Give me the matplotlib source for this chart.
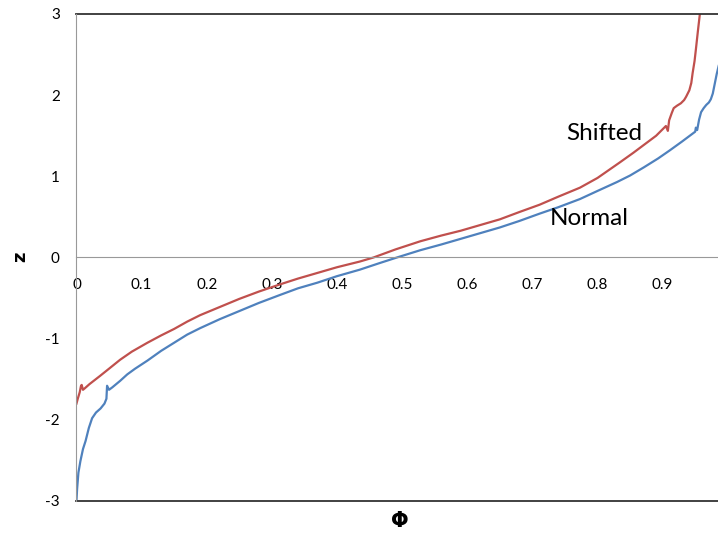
import matplotlib
matplotlib.use("Agg")
from matplotlib import pyplot as plt
import numpy as np

plt.rcParams['font.family'] = ['Lato', 'DejaVu Sans']
plt.rcParams['axes.unicode_minus'] = False

# Normal curve (blue)
normal_x = [0.0, 0.001, 0.003, 0.006, 0.010, 0.014, 0.019, 0.024, 0.030, 0.037,
            0.043, 0.046, 0.047, 0.050, 0.055, 0.067, 0.078, 0.09, 0.109, 0.13,
            0.15, 0.17, 0.19, 0.22, 0.25, 0.28, 0.313, 0.34, 0.37, 0.40,
            0.435, 0.465, 0.492, 0.528, 0.56, 0.59, 0.62, 0.65, 0.68, 0.711,
            0.74, 0.773, 0.80, 0.83, 0.85, 0.871, 0.893, 0.911, 0.93, 0.945,
            0.950, 0.951, 0.953, 0.956, 0.959, 0.963, 0.967, 0.971, 0.974, 0.977,
            0.979, 0.983, 0.986]
normal_z = [-3.0, -2.85, -2.65, -2.51, -2.36, -2.26, -2.10, -1.98, -1.91, -1.86,
            -1.80, -1.74, -1.58, -1.63, -1.60, -1.52, -1.44, -1.37, -1.27, -1.15,
            -1.05, -0.95, -0.87, -0.76, -0.66, -0.56, -0.46, -0.38, -0.31, -0.23,
            -0.15, -0.07, 0.0, 0.09, 0.16, 0.23, 0.30, 0.37, 0.45, 0.54,
            0.62, 0.72, 0.82, 0.93, 1.01, 1.11, 1.22, 1.32, 1.43, 1.52,
            1.55, 1.60, 1.57, 1.70, 1.79, 1.84, 1.88, 1.91, 1.95, 2.02,
            2.10, 2.26, 2.36]

# Shifted curve (red)
shifted_x = [0.0, 0.002, 0.005, 0.007, 0.008, 0.010, 0.013, 0.02, 0.028, 0.036,
             0.05, 0.067, 0.085, 0.109, 0.13, 0.15, 0.17, 0.19, 0.22, 0.25,
             0.28, 0.313, 0.34, 0.37, 0.40, 0.435, 0.456, 0.49, 0.528, 0.56,
             0.59, 0.62, 0.65, 0.68, 0.711, 0.74, 0.773, 0.80, 0.834, 0.855,
             0.87, 0.89, 0.900, 0.905, 0.908, 0.910, 0.914, 0.917, 0.922, 0.928,
             0.933, 0.936, 0.941, 0.944, 0.946, 0.949, 0.951, 0.954, 0.957]
shifted_z = [-1.80, -1.74, -1.66, -1.58, -1.57, -1.63, -1.61, -1.56, -1.51, -1.46,
             -1.37, -1.26, -1.16, -1.05, -0.96, -0.88, -0.79, -0.71, -0.61, -0.51,
             -0.42, -0.33, -0.26, -0.19, -0.12, -0.05, 0.0, 0.10, 0.20, 0.27,
             0.33, 0.40, 0.47, 0.56, 0.65, 0.75, 0.86, 0.98, 1.17, 1.29,
             1.38, 1.50, 1.58, 1.62, 1.56, 1.69, 1.78, 1.84, 1.87, 1.90,
             1.94, 1.98, 2.06, 2.15, 2.27, 2.42, 2.56, 2.78, 2.99]

xticks = [0, 0.1, 0.2, 0.3, 0.4, 0.5, 0.6, 0.7, 0.8, 0.9]
xticklabels = ['0', '0.1', '0.2', '0.3', '0.4', '0.5', '0.6', '0.7', '0.8', '0.9']
yticks = [-3, -2, -1, 0, 1, 2, 3]

fig = plt.figure(figsize=(7.18, 5.36), dpi=100)
ax = fig.add_axes([0.1065, 0.0653, 0.8935, 0.9086])

ax.plot(normal_x, normal_z, color='#4F81BD', lw=1.6)
ax.plot(shifted_x, shifted_z, color='#C0504D', lw=1.6)

ax.set_xlim(0, 0.985)
ax.set_ylim(-3, 3)

# x axis crosses at z = 0
ax.spines['bottom'].set_position(('data', 0))
ax.spines['bottom'].set_color('#999999')
ax.spines['left'].set_color('#999999')
ax.spines['right'].set_visible(False)
ax.spines['top'].set_visible(False)
ax.axhline(3, color='#333333', lw=1.3, clip_on=False)
ax.axhline(-3, color='#333333', lw=1.3, clip_on=False)

ax.set_xticks(xticks)
ax.set_xticklabels(xticklabels)
ax.set_yticks(yticks)
ax.tick_params(axis='x', length=0, pad=15, labelsize=11)
ax.tick_params(axis='y', length=0, pad=12, labelsize=11)

ax.text(0.81, 1.53, 'Shifted', fontsize=17.5, ha='center', va='center')
ax.text(0.788, 0.48, 'Normal', fontsize=17.5, ha='center', va='center')

fig.text(20 / 718, 1 - 257 / 536, 'z', rotation=90, fontsize=13, fontweight='bold',
         family='DejaVu Sans', ha='center', va='center')
fig.text(400 / 718, 1 - 521 / 536, 'Φ', fontsize=15, fontweight='bold',
         family='DejaVu Sans', ha='center', va='center')

fig.savefig('out.png', dpi=100)
